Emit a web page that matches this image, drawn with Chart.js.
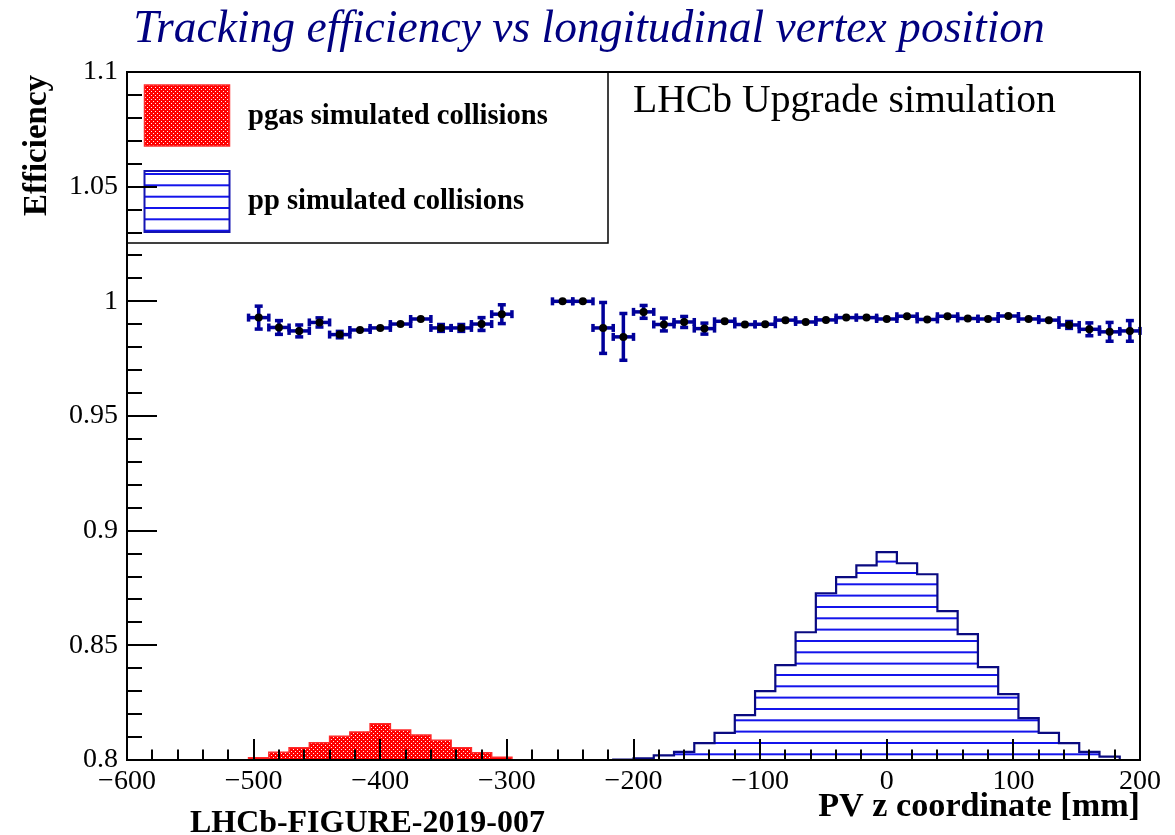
<!DOCTYPE html>
<html><head><meta charset="utf-8">
<script src="https://cdn.jsdelivr.net/npm/chart.js@4.4.1/dist/chart.umd.min.js"></script>
<style>html,body{margin:0;padding:0;background:#fff;}#wrap{width:1175px;height:835px;}</style>
</head><body><div id="wrap"><canvas id="c" width="1175" height="835"></canvas></div>
<script>
// ---------------- data ----------------
const titleText = 'Tracking efficiency vs longitudinal vertex position';
const xTitle = 'PV z coordinate [mm]';
const yTitle = 'Efficiency';
const labelText = 'LHCb Upgrade simulation';
const figureId = 'LHCb-FIGURE-2019-007';
const legendLabels = ['pgas simulated collisions', 'pp simulated collisions'];
const xTicks = [-600, -500, -400, -300, -200, -100, 0, 100, 200];
const yTicks = [0.8, 0.85, 0.9, 0.95, 1.0, 1.05, 1.1];
const binWidth = 16;
const pgasBins = [-496, -480, -464, -448, -432, -416, -400, -384, -368, -352, -336, -320, -304];
const pgasCounts = [1.0, 3.4, 5.3, 7.5, 10.4, 12.2, 15.8, 13.1, 10.9, 8.6, 5.3, 3.2, 1.2];
const ppBins = [-208, -192, -176, -160, -144, -128, -112, -96, -80, -64, -48, -32, -16, 0, 16, 32, 48, 64, 80, 96, 112, 128, 144, 160, 176];
const ppCounts = [0.2, 0.7, 2.0, 3.5, 7.4, 11.8, 19.6, 30.0, 41.4, 55.7, 72.7, 79.7, 84.9, 90.6, 85.8, 81.0, 64.9, 54.9, 40.5, 28.7, 18.3, 11.8, 7.4, 3.5, 1.5];
const effZ = [-496, -480, -464, -448, -432, -416, -400, -384, -368, -352, -336, -320, -304,
  -256, -240, -224, -208, -192, -176, -160, -144, -128, -112, -96, -80, -64, -48, -32, -16,
  0, 16, 32, 48, 64, 80, 96, 112, 128, 144, 160, 176, 192];
const effValue = [0.9929, 0.9886, 0.9871, 0.9908, 0.9855, 0.9875, 0.9884, 0.9901, 0.9923, 0.9884, 0.9884, 0.9901, 0.9944,
  1.0000, 1.0000, 0.9884, 0.9845, 0.9954, 0.9899, 0.9910, 0.9881, 0.9913, 0.9899, 0.9900, 0.9918, 0.9910, 0.9919, 0.9929, 0.9929,
  0.9923, 0.9935, 0.9921, 0.9935, 0.9925, 0.9923, 0.9936, 0.9923, 0.9918, 0.9897, 0.9878, 0.9867, 0.9871];
const effError = [0.0050, 0.0030, 0.0026, 0.0020, 0.0014, 0.0009, 0.0009, 0.0009, 0.0010, 0.0015, 0.0015, 0.0028, 0.0041,
  0.0000, 0.0000, 0.0111, 0.0102, 0.0028, 0.0028, 0.0024, 0.0024, 0.0010, 0.0008, 0.0008, 0.0008, 0.0008, 0.0008, 0.0008, 0.0008,
  0.0008, 0.0008, 0.0008, 0.0008, 0.0008, 0.0008, 0.0008, 0.0008, 0.0010, 0.0015, 0.0028, 0.0041, 0.0045];

// ---------------- styles ----------------
const FONT = '"Liberation Serif", "Times New Roman", serif';
const ERR_COLOR = '#00009a';
const PP_LINE = '#0a0a80';
const PP_HATCH = 'rgb(20,20,235)';
const PG_LINE = '#ff2a2a';

function makeDotPattern() {
  const c = document.createElement('canvas'); c.width = 4; c.height = 4;
  const g = c.getContext('2d');
  g.fillStyle = '#ff0000'; g.fillRect(0, 0, 4, 4);
  g.fillStyle = 'rgba(255,240,240,1)'; g.fillRect(1, 1, 1, 1); g.fillRect(3, 3, 1, 1);
  return document.getElementById('c').getContext('2d').createPattern(c, 'repeat');
}
function makeHatch(offsets) {
  const c = document.createElement('canvas'); c.width = 4; c.height = 34;
  const g = c.getContext('2d');
  g.fillStyle = PP_HATCH;
  offsets.forEach(o => g.fillRect(0, o - 1, 4, 2));
  return document.getElementById('c').getContext('2d').createPattern(c, 'repeat');
}
const redPattern = makeDotPattern();
const bluePattern = makeHatch([6.3, 17.6, 29.0]);
const blueLegendPattern = makeHatch([4.0, 15.3, 26.7]);

function histPoints(bins, counts) {
  const h = binWidth / 2, pts = [{x: bins[0] - h, y: 0}];
  bins.forEach((b, i) => pts.push({x: b - h, y: counts[i]}));
  pts.push({x: bins[bins.length - 1] + h, y: 0});
  return pts;
}
function fitFont(ctx, text, width, style) {
  ctx.font = style + ' 100px ' + FONT;
  return 100 * width / ctx.measureText(text).width;
}

function drawErrors(chart) {
  const ctx = chart.ctx, xs = chart.scales.x, ys = chart.scales.y;
  const lw = 3.5, cap = 8;
  ctx.save();
  ctx.fillStyle = ERR_COLOR;
  effZ.forEach((z, i) => {
    const xl = xs.getPixelForValue(z - binWidth / 2), xr = xs.getPixelForValue(z + binWidth / 2);
    const xc = xs.getPixelForValue(z), yc = ys.getPixelForValue(effValue[i]);
    ctx.fillRect(xl, yc - lw / 2, xr - xl, lw);
    ctx.fillRect(xl - lw / 2, yc - cap / 2, lw, cap);
    ctx.fillRect(xr - lw / 2, yc - cap / 2, lw, cap);
    const yt = ys.getPixelForValue(effValue[i] + effError[i]);
    const yb = ys.getPixelForValue(effValue[i] - effError[i]);
    if (yb - yt > 6) {
      ctx.fillRect(xc - lw / 2, yt, lw, yb - yt);
      ctx.fillRect(xc - cap / 2, yt - lw / 2, cap, lw);
      ctx.fillRect(xc - cap / 2, yb - lw / 2, cap, lw);
    }
  });
  ctx.restore();
}

function drawLegend(ctx) {
  ctx.save();
  ctx.fillStyle = '#fff';
  ctx.fillRect(127, 72, 481, 171);
  ctx.strokeStyle = '#000'; ctx.lineWidth = 1.5;
  ctx.strokeRect(127, 72, 481, 171);
  ctx.fillStyle = redPattern; ctx.fillRect(144.5, 85, 85, 61);
  ctx.strokeStyle = PG_LINE; ctx.lineWidth = 1.5; ctx.strokeRect(144.5, 85, 85, 61);
  ctx.fillStyle = blueLegendPattern; ctx.fillRect(144.5, 171, 85, 61);
  ctx.strokeStyle = '#1414b4'; ctx.lineWidth = 2; ctx.strokeRect(144.5, 171, 85, 61);
  const fs = fitFont(ctx, legendLabels[0], 300, 'bold');
  ctx.font = 'bold ' + fs + 'px ' + FONT;
  ctx.fillStyle = '#000'; ctx.textAlign = 'left'; ctx.textBaseline = 'alphabetic';
  ctx.fillText(legendLabels[0], 248, 123.5);
  ctx.fillText(legendLabels[1], 248, 208.5);
  ctx.restore();
}

function drawFrame(chart) {
  const ctx = chart.ctx, xs = chart.scales.x, ys = chart.scales.y, a = chart.chartArea;
  ctx.save();
  ctx.strokeStyle = '#000'; ctx.lineWidth = 2;
  ctx.beginPath();
  for (let k = 80; k <= 110; k++) {
    const y = Math.round(ys.getPixelForValue(k / 100));
    const len = (k % 5 === 0) ? 30 : 15;
    ctx.moveTo(a.left, y); ctx.lineTo(a.left + len, y);
  }
  for (let k = -30; k <= 10; k++) {
    const x = Math.round(xs.getPixelForValue(k * 20));
    const len = (k % 5 === 0) ? 21 : 10.5;
    ctx.moveTo(x, a.bottom); ctx.lineTo(x, a.bottom - len);
  }
  ctx.stroke();
  ctx.strokeRect(a.left, a.top, a.right - a.left, a.bottom - a.top);
  ctx.restore();
}

const rootStyle = {
  id: 'rootStyle',
  beforeDraw(chart) {
    const ctx = chart.ctx; ctx.save(); ctx.fillStyle = '#fff';
    ctx.fillRect(0, 0, chart.width, chart.height); ctx.restore();
  },
  beforeDatasetDraw(chart, args) { if (args.index === 0) drawErrors(chart); },
  afterDatasetsDraw(chart) { drawLegend(chart.ctx); drawFrame(chart); },
  afterDraw(chart) {
    const ctx = chart.ctx;
    ctx.save();
    ctx.textBaseline = 'alphabetic';
    let fs = fitFont(ctx, titleText, 912, 'italic');
    ctx.font = 'italic ' + fs + 'px ' + FONT; ctx.fillStyle = '#000080'; ctx.textAlign = 'center';
    ctx.fillText(titleText, 589, 42);
    fs = fitFont(ctx, labelText, 423, 'normal');
    ctx.font = fs + 'px ' + FONT; ctx.fillStyle = '#000'; ctx.textAlign = 'left';
    ctx.fillText(labelText, 633, 112);
    fs = fitFont(ctx, xTitle, 322, 'bold');
    ctx.font = 'bold ' + fs + 'px ' + FONT; ctx.textAlign = 'right';
    ctx.fillText(xTitle, 1140, 816);
    fs = fitFont(ctx, figureId, 355, 'bold');
    ctx.font = 'bold ' + fs + 'px ' + FONT; ctx.textAlign = 'left';
    ctx.fillText(figureId, 190, 832);
    fs = fitFont(ctx, yTitle, 141, 'bold');
    ctx.font = 'bold ' + fs + 'px ' + FONT; ctx.textAlign = 'right';
    ctx.translate(46, 75); ctx.rotate(-Math.PI / 2);
    ctx.fillText(yTitle, 0, 0);
    ctx.restore();
  }
};

const fmtX = v => v < 0 ? '\u2212' + Math.abs(v) : String(v);
const fmtY = v => String(+v.toFixed(2));

new Chart(document.getElementById('c'), {
  type: 'line',
  data: {
    datasets: [
      {
        type: 'scatter', label: 'efficiency',
        data: effZ.map((z, i) => ({x: z, y: effValue[i]})),
        xAxisID: 'x', yAxisID: 'y', showLine: false,
        pointRadius: 4, pointBackgroundColor: '#000', pointBorderWidth: 0, pointHoverRadius: 4
      },
      {
        label: legendLabels[0], data: histPoints(pgasBins, pgasCounts),
        xAxisID: 'x', yAxisID: 'yh', stepped: true, fill: 'origin',
        backgroundColor: redPattern, borderColor: PG_LINE, borderWidth: 1.5, pointRadius: 0
      },
      {
        label: legendLabels[1], data: histPoints(ppBins, ppCounts),
        xAxisID: 'x', yAxisID: 'yh', stepped: true, fill: 'origin',
        backgroundColor: bluePattern, borderColor: PP_LINE, borderWidth: 2.2, pointRadius: 0
      }
    ]
  },
  options: {
    responsive: false, animation: false, devicePixelRatio: 1,
    layout: {padding: {left: 0, right: 35, top: 72, bottom: 0}},
    plugins: {legend: {display: false}, title: {display: false}, tooltip: {enabled: false}},
    events: [],
    scales: {
      x: {
        type: 'linear', position: 'bottom', min: -600, max: 200,
        afterBuildTicks: s => { s.ticks = xTicks.map(v => ({value: v})); },
        afterFit: s => { s.height = 75; },
        grid: {display: false, drawTicks: false}, border: {display: false},
        ticks: {callback: fmtX, autoSkip: false, maxRotation: 0, padding: 5, color: '#000',
                font: {family: FONT, size: 28}}
      },
      y: {
        type: 'linear', position: 'left', min: 0.8, max: 1.1,
        afterBuildTicks: s => { s.ticks = yTicks.map(v => ({value: v})); },
        afterFit: s => { s.width = 127; },
        grid: {display: false, drawTicks: false}, border: {display: false},
        ticks: {callback: fmtY, autoSkip: false, padding: 9, color: '#000',
                font: {family: FONT, size: 28}}
      },
      yh: {type: 'linear', display: false, min: 0, max: 300}
    }
  },
  plugins: [rootStyle]
});
</script></body></html>
